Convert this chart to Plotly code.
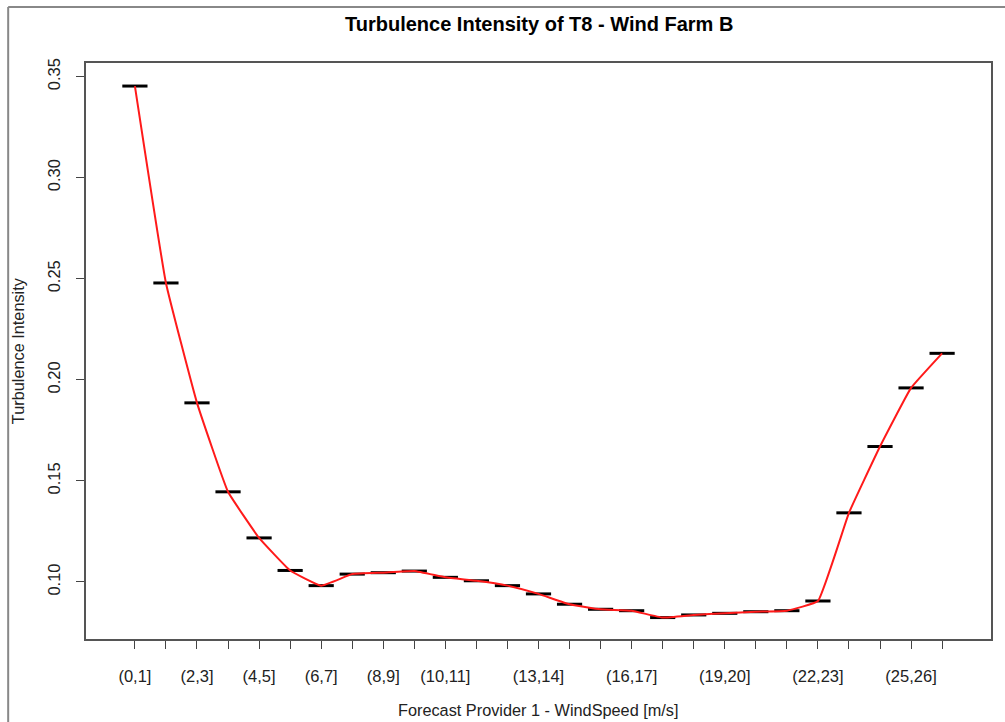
import plotly.graph_objects as go

categories = ["(0,1]", "(1,2]", "(2,3]", "(3,4]", "(4,5]", "(5,6]", "(6,7]", "(7,8]", "(8,9]",
              "(9,10]", "(10,11]", "(11,12]", "(12,13]", "(13,14]", "(14,15]", "(15,16]",
              "(16,17]", "(17,18]", "(18,19]", "(19,20]", "(20,21]", "(21,22]", "(22,23]",
              "(23,24]", "(24,25]", "(25,26]", "(26,27]"]
turbulence = [0.3453, 0.2479, 0.1886, 0.1446, 0.1218, 0.1057, 0.0982, 0.1039, 0.1046,
              0.1054, 0.1023, 0.1006, 0.0982, 0.0941, 0.0890, 0.0865, 0.0858, 0.0824,
              0.0837, 0.0845, 0.0853, 0.0858, 0.0906, 0.1342, 0.1670, 0.1960, 0.2131]
shown_labels = ["(0,1]", "(2,3]", "(4,5]", "(6,7]", "(8,9]", "(10,11]", "(13,14]",
                "(16,17]", "(19,20]", "(22,23]", "(25,26]"]
y_ticks = [0.10, 0.15, 0.20, 0.25, 0.30, 0.35]

x = list(range(len(categories)))
ticktext = [c if c in shown_labels else "" for c in categories]

W, H = 1005, 722
L, R, T, B = 86, 12, 63, 83
pw, ph = W - L - R, H - T - B

def px_x(px):
    return (px - L) / pw

def px_y(py):
    return (H - B - py) / ph

fig = go.Figure()
fig.add_trace(go.Scatter(
    x=x, y=turbulence, mode="markers",
    marker=dict(symbol="line-ew", size=18, line=dict(color="black", width=3)),
    hoverinfo="skip", showlegend=False))
fig.add_trace(go.Scatter(
    x=x, y=turbulence, mode="lines",
    line=dict(color="#ff1a1a", width=2, shape="spline", smoothing=0.3),
    showlegend=False))

font = "Liberation Sans, Arial, sans-serif"
fig.update_layout(
    width=W, height=H,
    margin=dict(l=L, r=R, t=T, b=B),
    paper_bgcolor="white", plot_bgcolor="white",
    font=dict(family=font, size=16, color="#222"),
    xaxis=dict(range=[-1.575, 27.575], tickvals=x, ticktext=ticktext,
               ticks="outside", ticklen=8, tickcolor="#444", tickwidth=1,
               showgrid=False, zeroline=False, showline=True, mirror=True,
               linecolor="#555", linewidth=1.5, tickfont=dict(size=16.5, color="#222"),
               ticklabelstandoff=13),
    yaxis=dict(range=[0.0718, 0.3567], tickvals=y_ticks,
               ticktext=[f"{v:.2f}" for v in y_ticks], tickangle=-90,
               ticks="outside", ticklen=8, tickcolor="#444", tickwidth=1,
               showgrid=False, zeroline=False, showline=True, mirror=True,
               linecolor="#555", linewidth=1.5, tickfont=dict(size=16.5, color="#222"),
               ticklabelstandoff=10),
    annotations=[
        dict(text="<b>Turbulence Intensity of T8 - Wind Farm B</b>", x=0.5, y=px_y(24),
             xref="paper", yref="paper", showarrow=False, xanchor="center", yanchor="middle",
             font=dict(size=20, color="black", family=font)),
        dict(text="Forecast Provider 1 - WindSpeed [m/s]", x=0.5, y=px_y(710),
             xref="paper", yref="paper", showarrow=False, xanchor="center", yanchor="middle",
             font=dict(size=16.3, color="#222", family=font)),
        dict(text="Turbulence Intensity", x=px_x(18), y=0.5, textangle=-90,
             xref="paper", yref="paper", showarrow=False, xanchor="center", yanchor="middle",
             font=dict(size=16.3, color="#222", family=font)),
    ],
    shapes=[
        dict(type="line", xref="paper", yref="paper", x0=px_x(8), x1=px_x(1010),
             y0=px_y(7), y1=px_y(7), line=dict(color="#888", width=2)),
        dict(type="line", xref="paper", yref="paper", x0=px_x(8), x1=px_x(8),
             y0=px_y(7), y1=px_y(730), line=dict(color="#888", width=2)),
    ],
)

fig.write_html("out.html")
